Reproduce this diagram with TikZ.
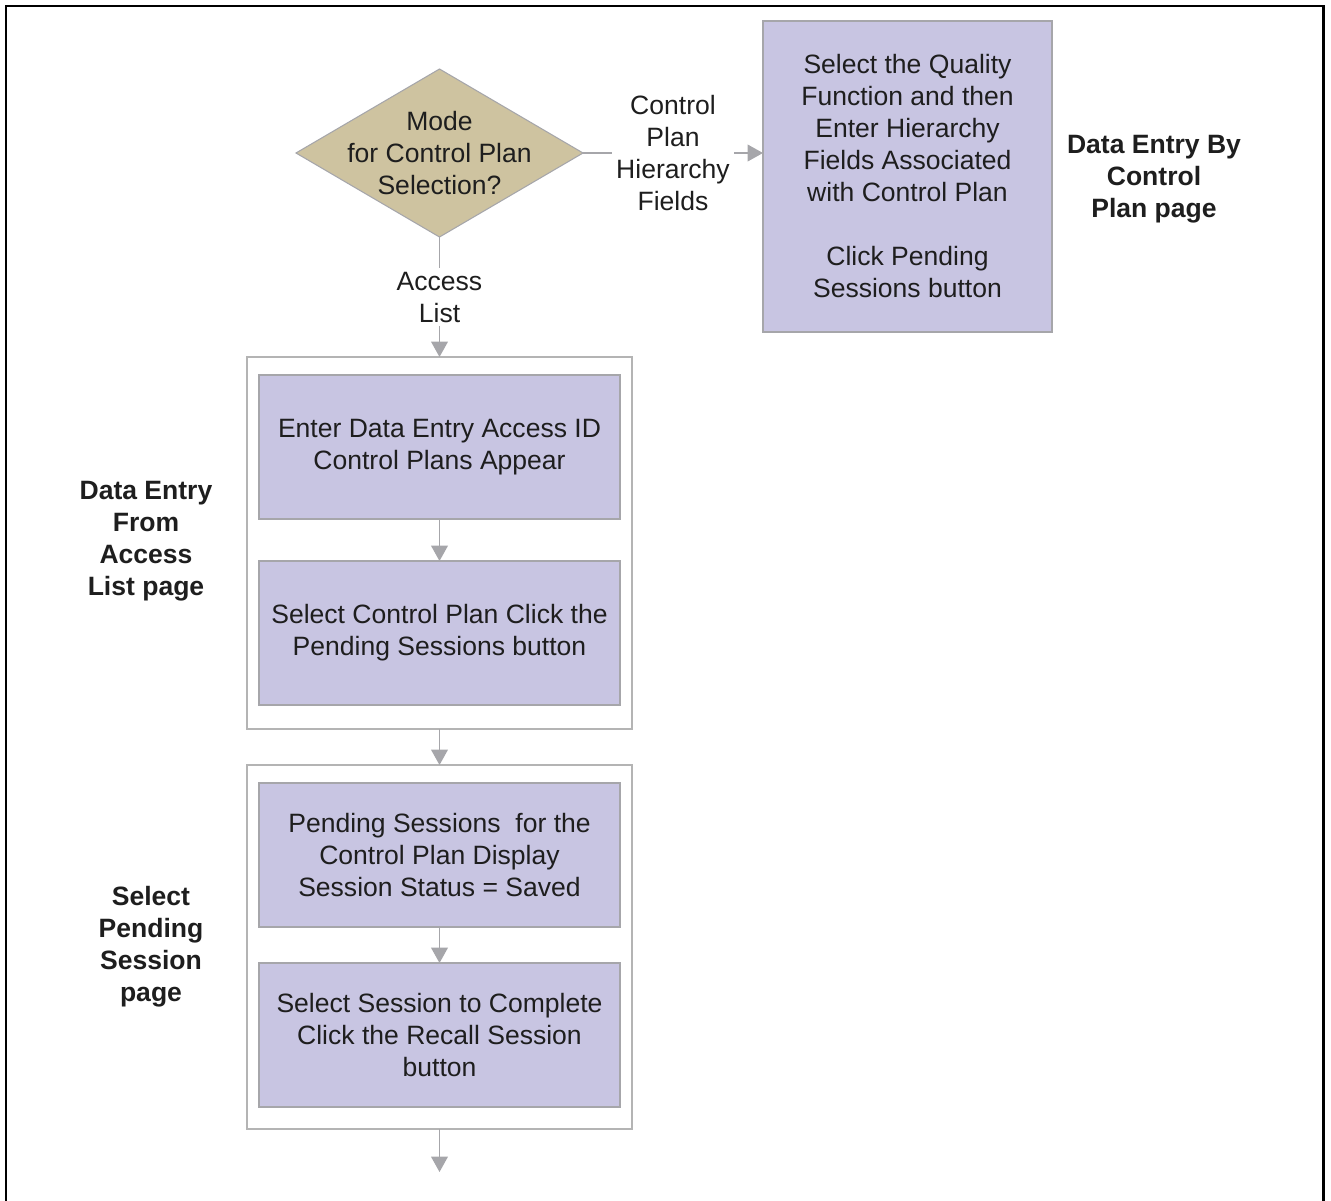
\documentclass[tikz,border=0pt]{standalone}
\usepackage{fontspec}
\setmainfont{Liberation Sans}
\usetikzlibrary{shapes.geometric,arrows.meta}
\definecolor{lav}{HTML}{C8C5E2}
\definecolor{tan}{HTML}{CEC3A0}
\definecolor{edge}{HTML}{A6A6AA}
\definecolor{grp}{HTML}{B4B4B4}
\definecolor{ink}{HTML}{1E1E1E}
\tikzset{
  every node/.style={font=\fontsize{19.9pt}{24pt}\selectfont, text=ink, align=center, outer sep=0pt},
  stepbox/.style={draw=edge, line width=1.1pt, fill=lav, minimum width=361*0.75pt, minimum height=144*0.75pt, inner sep=0pt},
  groupbox/.style={draw=grp, line width=1.1pt, fill=white, minimum width=385*0.75pt, inner sep=0pt},
  decision/.style={diamond, draw=edge, line width=0.8pt, fill=tan, minimum width=287*0.75pt, minimum height=168*0.75pt, inner sep=0pt},
  conn/.style={draw=edge, line width=1.1pt},
  arr/.style={conn, -{Triangle[width=12.5pt,length=11.5pt]}},
  edgelabel/.style={fill=white, inner sep=3pt},
  sidelabel/.style={font=\fontsize{19.9pt}{24pt}\selectfont\bfseries},
}
\begin{document}
\begin{tikzpicture}[x=0.75pt,y=-0.75pt]
\useasboundingbox (0,0) rectangle (1331,1200);
\draw[line width=1.6pt, black] (6,1202) -- (6,6) -- (1323.5,6) -- (1323.5,1202);

% decision
\node[decision] (mode) at (439.5,153) {};
\node (modetext) at (439.5,153) {Mode\\for Control Plan\\Selection?};

% right box
\node[stepbox, minimum width=289*0.75pt, minimum height=311*0.75pt] (selq) at (907.5,176.5)
  {Select the Quality\\Function and then\\Enter Hierarchy\\Fields Associated\\with Control Plan\\[24pt]Click Pending\\Sessions button};
\node[sidelabel] (lblright) at (1154,179) {Data Entry By\\Control\\Plan page};

% group boxes
\node[groupbox, minimum height=372*0.75pt] (g1) at (439.5,543) {};
\node[groupbox, minimum height=364*0.75pt] (g2) at (439.5,947) {};

% steps
\node[stepbox] (enter) at (439.5,447) {Enter Data Entry Access ID\\Control Plans Appear};
\node[stepbox] (selcp) at (439.5,633) {Select Control Plan Click the\\Pending Sessions button};
\node[stepbox] (pend) at (439.5,855) {Pending Sessions\ \ for the\\Control Plan Display\\Session Status = Saved};
\node[stepbox] (selses) at (439.5,1035) {Select Session to Complete\\Click the Recall Session\\button};

% side labels
\node[sidelabel] (lbl1) at (146,541) {Data Entry\\From\\Access\\List page};
\node[sidelabel] (lbl2) at (151,947) {Select\\Pending\\Session\\page};

% connectors
\draw[arr] (mode.east) -- node[edgelabel] (cphf) {Control\\Plan\\Hierarchy\\Fields} (mode.east -| selq.west);
\draw[arr] (mode.south) -- node[edgelabel] (al) {Access\\List} (g1.north);
\draw[arr] (enter.south) -- (selcp.north);
\draw[arr] (g1.south) -- (g2.north);
\draw[arr] (pend.south) -- (selses.north);
\coordinate (endpt) at (439.5,1172);
\draw[arr] (g2.south) -- (endpt);
\end{tikzpicture}
\end{document}
